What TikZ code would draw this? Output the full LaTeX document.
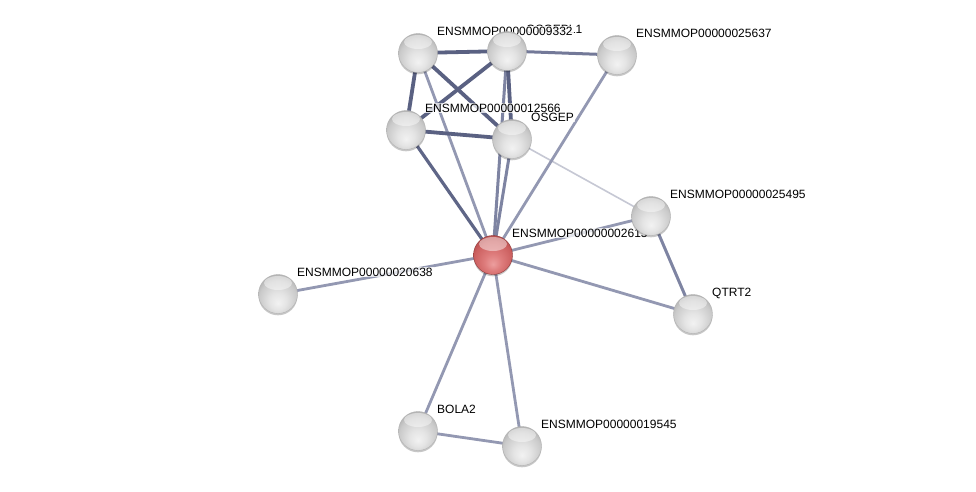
\documentclass[tikz,border=0pt]{standalone}
\usepackage{fontspec}
\setmainfont{Liberation Sans}
\usetikzlibrary{calc}
\pgfdeclarelayer{bg}
\pgfdeclarelayer{edges}
\pgfdeclarelayer{labels}
\pgfsetlayers{bg,edges,labels,main}
\definecolor{edark}{HTML}{5A6182}
\definecolor{emid}{HTML}{7E84A2}
\definecolor{elight}{HTML}{9398B2}
\definecolor{efaint}{HTML}{C6C8D4}
\definecolor{gA}{HTML}{F2F2F2}
\definecolor{gB}{HTML}{E4E4E4}
\definecolor{gC}{HTML}{CACACA}
\definecolor{gD}{HTML}{A4A4A4}
\definecolor{rA}{HTML}{EC9E9E}
\definecolor{rB}{HTML}{DE7C7C}
\definecolor{rC}{HTML}{CC6060}
\definecolor{rD}{HTML}{A84242}
\pgfdeclareradialshading{greyball}{\pgfpoint{0bp}{-12bp}}{color(0bp)=(gA); color(11bp)=(gB); color(24bp)=(gC); color(34bp)=(gD); color(50bp)=(gD)}
\pgfdeclareradialshading{redball}{\pgfpoint{0bp}{-12bp}}{color(0bp)=(rA); color(11bp)=(rB); color(24bp)=(rC); color(34bp)=(rD); color(50bp)=(rD)}
\tikzset{
  protein/.style={circle, minimum size=39pt, inner sep=0pt, draw=black!30, line width=0.4pt, shading=greyball,
    preaction={fill=black, fill opacity=0.22, transform canvas={yshift=-1.8pt}},
    path picture={\fill[white, opacity=0.45] ($(path picture bounding box.center)+(0,-11)$) ellipse [x radius=14, y radius=7];}},
  query/.style={protein, shading=redball, draw=rD!85!black},
  lbl/.style={anchor=base west, inner sep=1pt, fill=white, fill opacity=0.75, text opacity=1, font=\fontsize{12}{14}\selectfont},
  ethick/.style={draw=edark, line width=3.8pt},
  emed/.style={draw=emid, line width=3pt},
  elig/.style={draw=elight, line width=2.8pt},
  efnt/.style={draw=efaint, line width=1.6pt}
}
\begin{document}
\begin{tikzpicture}[x=1pt, y=-1pt]
\begin{pgfonlayer}{bg}
\fill[white] (0,0) rectangle (976,491);
\end{pgfonlayer}
\useasboundingbox (0,0) rectangle (976,491);
% nodes
\node[protein] (A) at (418,53) {};
\node[protein] (B) at (507,51) {};
\node[protein] (C) at (617,55) {};
\node[protein] (D) at (406,130) {};
\node[protein] (E) at (512,139) {};
\node[protein] (F) at (651,216) {};
\node[query]   (G) at (493,255) {};
\node[protein] (H) at (278,294) {};
\node[protein] (I) at (693,314) {};
\node[protein] (J) at (418,431) {};
\node[protein] (K) at (522,446) {};
% labels
\begin{pgfonlayer}{labels}
\node[lbl, fill opacity=0] (lB) at ($(B)+(18,-18)$) {OSGEPL1};
\node[lbl, fill opacity=0.88] (lA) at ($(A)+(18,-18)$) {ENSMMOP00000009332};
\node[lbl] (lC) at ($(C)+(18,-18)$) {ENSMMOP00000025637};
\node[lbl] (lD) at ($(D)+(18,-18)$) {ENSMMOP00000012566};
\node[lbl] (lE) at ($(E)+(18,-18)$) {OSGEP};
\node[lbl] (lF) at ($(F)+(18,-18)$) {ENSMMOP00000025495};
\node[lbl] (lG) at ($(G)+(18,-18)$) {ENSMMOP00000002615};
\node[lbl] (lH) at ($(H)+(18,-18)$) {ENSMMOP00000020638};
\node[lbl] (lI) at ($(I)+(18,-18)$) {QTRT2};
\node[lbl] (lJ) at ($(J)+(18,-18)$) {BOLA2};
\node[lbl] (lK) at ($(K)+(18,-18)$) {ENSMMOP00000019545};
\end{pgfonlayer}
% edges
\begin{pgfonlayer}{edges}
\draw[efnt] (E.center) -- (F.center);
\draw[elig] (C.center) -- (G.center);
\draw[elig] (A.center) -- (G.center);
\draw[elig] (F.center) -- (G.center);
\draw[elig] (G.center) -- (H.center);
\draw[elig] (G.center) -- (I.center);
\draw[emid, line width=3pt] (F.center) -- (I.center);
\draw[elig] (G.center) -- (J.center);
\draw[elig] (G.center) -- (K.center);
\draw[elig] (J.center) -- (K.center);
\draw[emed] (B.center) -- (G.center);
\draw[emed] (E.center) -- (G.center);
\draw[draw=edark!85!emid, line width=3.2pt] (D.center) -- (G.center);
\draw[draw=emid!70!edark, line width=3pt] (B.center) -- (C.center);
\draw[ethick] (A.center) -- (B.center);
\draw[ethick] (A.center) -- (D.center);
\draw[ethick] (A.center) -- (E.center);
\draw[ethick] (B.center) -- (D.center);
\draw[ethick] (B.center) -- (E.center);
\draw[ethick] (D.center) -- (E.center);
\end{pgfonlayer}
\end{tikzpicture}
\end{document}
